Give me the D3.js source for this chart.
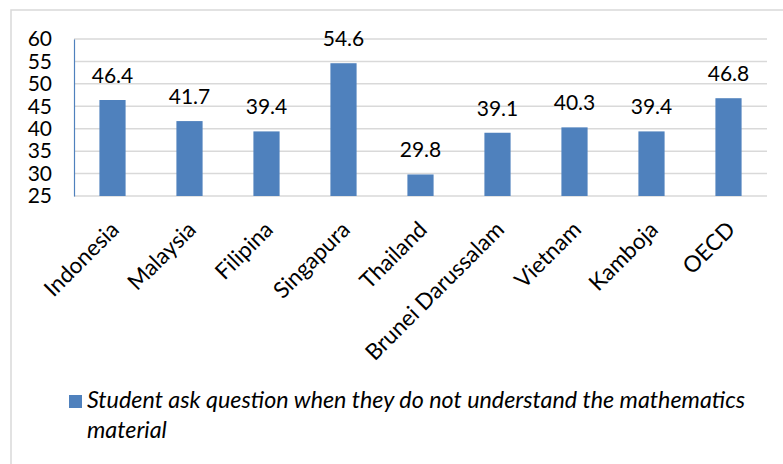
<!DOCTYPE html>
<html>
<head>
<meta charset="utf-8">
<script src="https://cdn.jsdelivr.net/npm/d3@7/dist/d3.min.js"></script>
<style>
  body { margin: 0; background: #fff; }
  text { font-family: Lato, "Open Sans", sans-serif; fill: #000; }
</style>
</head>
<body>
<div id="canvas"></div>
<script>
var categories = ['Indonesia', 'Malaysia', 'Filipina', 'Singapura', 'Thailand',
    'Brunei Darussalam', 'Vietnam', 'Kamboja', 'OECD'];
var values = [46.4, 41.7, 39.4, 54.6, 29.8, 39.1, 40.3, 39.4, 46.8];
var yTicks = [25, 30, 35, 40, 45, 50, 55, 60];
var seriesName = ['Student ask question when they do not understand the mathematics', 'material'];

var WIDTH = 783, HEIGHT = 464;
var BAR_COLOR = '#4f81bd';
var GRID_COLOR = '#d9d9d9';
var FONT_SIZE = 21;

var svg = d3.select('#canvas').append('svg')
    .attr('width', WIDTH)
    .attr('height', HEIGHT);

// chart border
svg.append('rect')
    .attr('x', 11).attr('y', 10)
    .attr('width', 820).attr('height', 500)
    .attr('fill', 'none')
    .attr('stroke', GRID_COLOR)
    .attr('stroke-width', 1.5);

var plot = { left: 74, right: 767, top: 39, bottom: 196 };

var x = d3.scaleBand()
    .domain(categories)
    .range([plot.left, plot.right])
    .paddingInner(0.66)
    .paddingOuter(0.33);

var y = d3.scaleLinear()
    .domain([25, 60])
    .range([plot.bottom, plot.top]);

// gridlines
svg.append('g').selectAll('line')
    .data(yTicks)
    .enter()
    .append('line')
    .attr('x1', plot.left).attr('x2', plot.right)
    .attr('y1', function(d) { return y(d); })
    .attr('y2', function(d) { return y(d); })
    .attr('stroke', GRID_COLOR)
    .attr('stroke-width', 1.5);

// y axis
var yAxis = svg.append('g')
    .attr('transform', 'translate(' + plot.left + ',0)')
    .call(d3.axisLeft(y).tickValues(yTicks).tickSize(0).tickPadding(22));
yAxis.select('.domain').attr('stroke', BAR_COLOR).attr('stroke-width', 1.2);
yAxis.selectAll('text')
    .style('font-size', FONT_SIZE + 'px')
    .style('font-family', 'Lato, sans-serif')
    .attr('fill', '#000');

// bars
svg.append('g').selectAll('rect')
    .data(values)
    .enter()
    .append('rect')
    .attr('x', function(d, i) { return x(categories[i]); })
    .attr('y', function(d) { return y(d); })
    .attr('width', x.bandwidth())
    .attr('height', function(d) { return y(25) - y(d); })
    .attr('fill', BAR_COLOR);

// value labels
svg.append('g').selectAll('text')
    .data(values)
    .enter()
    .append('text')
    .attr('x', function(d, i) { return x(categories[i]) + x.bandwidth() / 2; })
    .attr('y', function(d) { return y(d) - 17; })
    .attr('text-anchor', 'middle')
    .style('font-size', FONT_SIZE + 'px')
    .text(function(d) { return d.toFixed(1); });

// category labels
svg.append('g').selectAll('text')
    .data(categories)
    .enter()
    .append('text')
    .attr('transform', function(d) {
        var cx = x(d) + x.bandwidth() / 2 + 8;
        return 'translate(' + cx + ',' + (plot.bottom + 35) + ') rotate(-45)';
    })
    .attr('text-anchor', 'end')
    .style('font-size', '22.5px')
    .text(function(d) { return d; });

// legend
var legend = svg.append('g');
legend.append('rect')
    .attr('x', 69).attr('y', 395)
    .attr('width', 13).attr('height', 13)
    .attr('fill', BAR_COLOR);
legend.append('text')
    .style('font-size', '23.3px')
    .style('font-style', 'italic')
    .selectAll('tspan')
    .data(seriesName)
    .enter()
    .append('tspan')
    .attr('x', 87)
    .attr('y', function(d, i) { return 408 + i * 30; })
    .text(function(d) { return d; });
</script>
</body>
</html>
